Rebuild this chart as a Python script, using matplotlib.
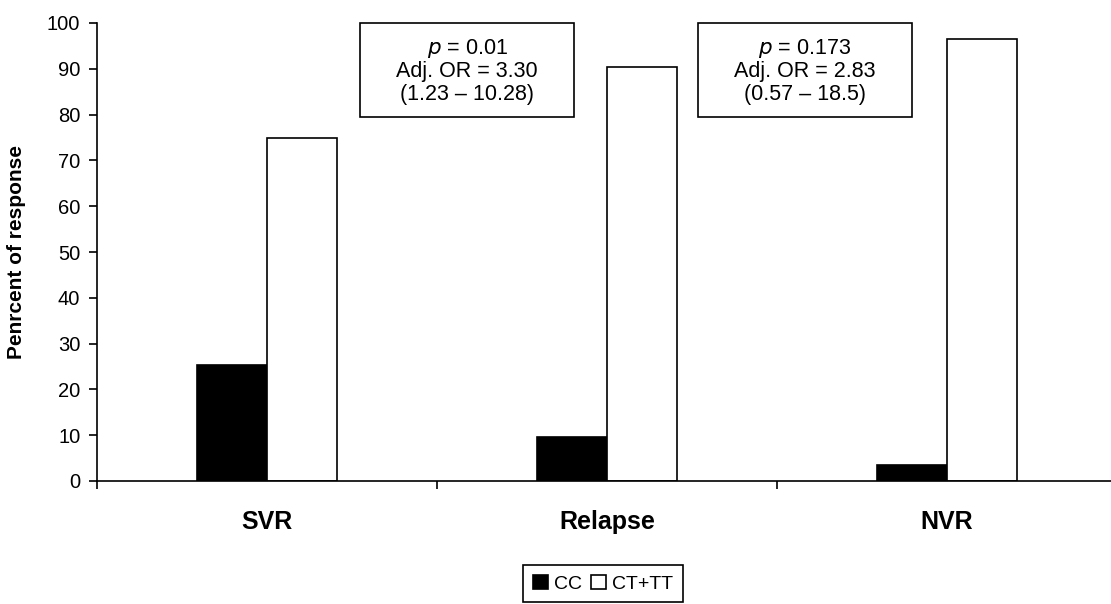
import matplotlib
matplotlib.use("Agg")
import matplotlib.pyplot as plt
import matplotlib.patches as patches
import numpy as np

plt.rcParams['font.family'] = ['Liberation Sans', 'DejaVu Sans']

categories = ["SVR", "Relapse", "NVR"]
cc = [25.3, 9.5, 3.4]
ct_tt = [74.8, 90.5, 96.6]
series_names = ["CC", "CT+TT"]
box_texts = ["$p$ = 0.01\nAdj. OR = 3.30\n(1.23 \u2013 10.28)",
             "$p$ = 0.173\nAdj. OR = 2.83\n(0.57 \u2013 18.5)"]

fig = plt.figure(figsize=(11.11, 6.04), dpi=100)
ax = fig.add_axes([97/1111, 123/604, 1020/1111, 458/604])

x = np.arange(len(categories))
w = 0.206
ax.bar(x - w/2, cc, w, color="black", edgecolor="black", linewidth=1.2, label=series_names[0])
ax.bar(x + w/2, ct_tt, w, color="white", edgecolor="black", linewidth=1.2, label=series_names[1])

ax.set_xlim(-0.5, 2.5)
ax.set_ylim(0, 100)
ax.set_yticks(np.arange(0, 101, 10))
ax.set_xticks(x)
ax.set_xticklabels(categories, fontsize=18, fontweight="bold")
ax.set_xticks(np.arange(-0.5, 2.6, 1), minor=True)
ax.tick_params(axis="x", which="major", length=0, pad=21)
ax.tick_params(axis="x", which="minor", length=6, width=1.2, direction="out")
ax.tick_params(axis="y", length=6, width=1.2, labelsize=14.5, pad=6)
ax.set_ylabel("Penrcent of response", fontsize=15, fontweight="bold")
ax.yaxis.set_label_coords(-71/1020, 0.5)

for s in ["top", "right"]:
    ax.spines[s].set_visible(False)
for s in ["left", "bottom"]:
    ax.spines[s].set_linewidth(1.2)

# annotation boxes (figure pixel layout)
for txt, (cx, left) in zip(box_texts, [(467, 360), (805, 698)]):
    rect = patches.Rectangle((left/1111, 1 - 117/604), 214/1111, 94/604,
                             transform=fig.transFigure, facecolor="white",
                             edgecolor="black", linewidth=1.2)
    fig.patches.append(rect)
    fig.text(cx/1111, 1 - 71/604, txt, ha="center", va="center",
             fontsize=15.5, linespacing=1.1)

leg = fig.legend(loc="upper center", bbox_to_anchor=(603/1111, 1 - 565/604),
                 ncol=2, fontsize=14, frameon=True, fancybox=False,
                 edgecolor="black", framealpha=1, handlelength=0.75,
                 handleheight=0.75, handletextpad=0.3, columnspacing=0.5,
                 borderpad=0.5, borderaxespad=0)
leg.get_frame().set_linewidth(1.2)

fig.savefig("out.png", dpi=100)
